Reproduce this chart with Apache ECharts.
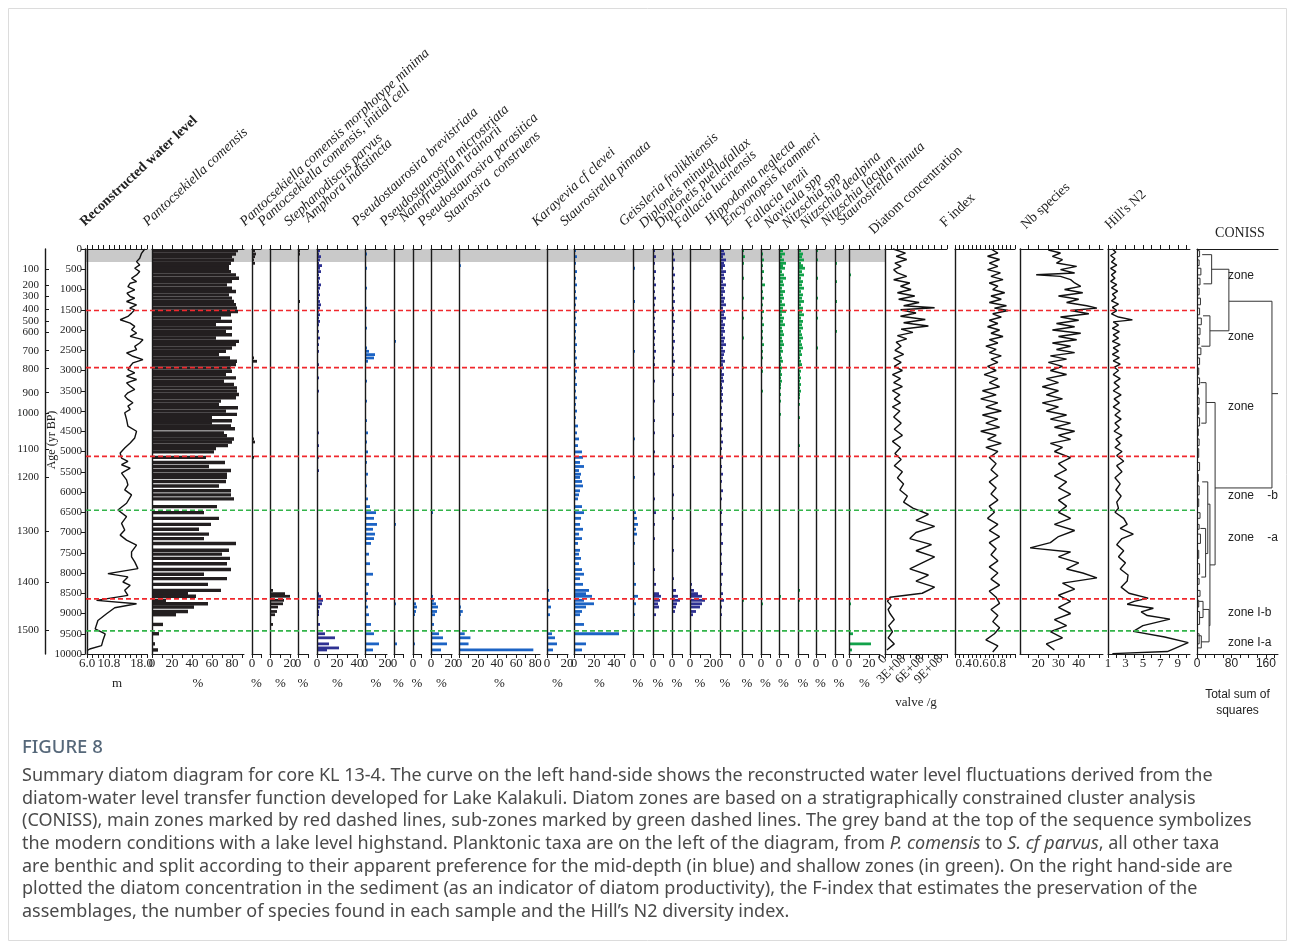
<!DOCTYPE html>
<html><head><meta charset="utf-8">
<script src="https://cdn.jsdelivr.net/npm/echarts@6/dist/echarts.min.js"></script>
<style>html,body{margin:0;padding:0;background:#fff}#c{width:1295px;height:949px}</style>
</head><body><div id="c"></div><script>
// ---------------- DATA (age in yr BP, value) ----------------
const ageTicks = [0,500,1000,1500,2000,2500,3000,3500,4000,4500,5000,5500,6000,6500,7000,7500,8000,8500,9000,9500,10000];
const depthLabels = [100,200,300,400,500,600,700,800,900,1000,1100,1200,1300,1400,1500];
const depthAges = [493,887,1158,1478,1773,2044,2512,2956,3547,4064,4951,5640,6970,8227,9409];
const redZones = [1520,2930,5120,8640];
const greenZones = [6450,9430];
const greyBand = [0,320];

const waterLevel = [[0,18.7],[107,18.0],[230,17.6],[312,16.9],[394,17.6],[476,16.5],[558,17.6],[640,16.9],[722,15.8],[804,16.9],[845,15.5],[927,15.0],[1009,16.5],[1091,14.8],[1173,15.5],[1214,16.5],[1296,14.7],[1378,16.9],[1460,15.4],[1501,16.5],[1583,15.8],[1665,15.0],[1747,13.3],[1829,15.5],[1911,16.5],[1993,15.8],[2075,16.9],[2157,15.5],[2239,18.3],[2321,17.6],[2403,16.5],[2485,16.9],[2567,14.7],[2649,16.1],[2731,18.3],[2813,16.1],[2895,15.5],[2977,15.0],[3059,16.5],[3141,14.7],[3223,16.9],[3305,14.7],[3387,15.5],[3469,16.5],[3551,15.0],[3633,14.3],[3715,15.0],[3797,16.1],[3879,15.0],[3961,15.5],[4043,14.3],[4207,14.7],[4376,15.0],[4500,16.9],[4665,16.5],[4790,15.5],[4914,14.3],[5038,13.3],[5162,13.6],[5244,15.0],[5327,13.6],[5410,15.5],[5534,13.6],[5700,14.7],[5823,15.0],[5947,14.3],[6071,15.8],[6278,14.7],[6443,12.8],[6609,14.7],[6774,13.6],[6940,14.3],[7064,13.3],[7188,14.7],[7312,16.9],[7477,15.8],[7601,15.8],[7725,16.5],[7891,17.2],[8015,10.6],[8097,15.0],[8222,13.9],[8304,15.5],[8428,14.3],[8552,15.0],[8676,8.1],[8759,16.9],[8858,12.1],[9007,10.3],[9173,8.4],[9380,7.8],[9504,10.0],[9669,9.5],[9793,9.2],[9876,6.6],[9917,6.0]];

const pComensis = [[41,86],[123,84],[189,80],[270,82],[353,79],[410,77],[475,77],[558,79],[640,84],[722,87],[804,80],[886,75],[968,80],[1050,84],[1132,77],[1214,80],[1296,82],[1378,84],[1460,85],[1542,86],[1624,79],[1706,69],[1788,80],[1870,64],[1952,80],[2034,74],[2116,80],[2198,64],[2280,87],[2362,84],[2444,80],[2526,74],[2608,67],[2690,78],[2772,85],[2854,84],[2936,79],[3018,80],[3100,74],[3182,84],[3264,72],[3346,82],[3428,85],[3510,85],[3592,87],[3674,84],[3756,69],[3838,67],[3920,86],[4002,74],[4084,85],[4166,60],[4240,80],[4300,60],[4370,79],[4440,83],[4540,72],[4610,75],[4690,82],[4765,80],[4855,76],[4930,64],[5010,62],[5145,54],[5270,73],[5370,57],[5470,79],[5560,75],[5640,75],[5740,74],[5850,67],[5970,79],[6070,79],[6170,82],[6360,65],[6510,52],[6650,67],[6800,59],[6920,47],[7040,57],[7150,52],[7270,84],[7440,77],[7535,70],[7640,78],[7770,75],[7915,79],[8030,52],[8140,75],[8280,56],[8430,69],[8510,36],[8575,44],[8675,14],[8760,56],[8840,42],[8950,36],[9030,24],[9270,11],[9500,7],[9750,3],[9900,6]];
const pcMinima = [[41,3],[123,4],[189,3],[270,2],[353,3],[475,1],[640,1],[886,1],[1378,1],[1706,1],[2690,2],[2772,5],[4300,1],[4540,1],[4690,2],[4765,3],[4855,1],[5145,2],[5270,1],[5470,1],[5560,1],[5740,1],[6070,1]];
const pcInitial = [[1296,1],[8430,3],[8510,15],[8575,20],[8675,14],[8760,13],[8840,8],[8950,7],[9030,5],[9270,3]];
const stephParvus = [[41,2],[123,2],[189,1],[270,1],[558,1],[1296,2],[1460,1],[2690,1],[2772,1]];
const amphora = [[41,3],[123,2],[189,4],[270,3],[353,2],[410,5],[475,3],[558,4],[640,2],[722,3],[804,2],[886,4],[968,3],[1050,2],[1132,3],[1214,2],[1296,3],[1378,4],[1460,3],[1542,2],[1624,3],[1706,2],[1788,3],[1870,2],[2034,2],[2198,3],[2362,2],[2526,2],[2690,1],[2854,2],[3018,1],[3182,2],[3346,1],[3510,2],[3674,1],[3838,1],[4002,1],[4166,1],[4370,1],[4540,2],[4690,1],[4855,2],[5010,1],[5145,2],[5270,1],[5470,2],[5640,1],[5850,1],[6070,1],[6360,1],[6800,1],[7270,1],[7640,1],[8030,1],[8280,1],[8510,2],[8575,4],[8675,6],[8760,5],[8840,3],[8950,2],[9030,2],[9270,3],[9500,8],[9600,18],[9750,12],[9850,22],[9900,10]];
const brevistriata = [[123,2],[270,1],[475,2],[722,1],[968,2],[1214,1],[1460,2],[1706,1],[1952,2],[2198,1],[2444,2],[2526,4],[2608,10],[2690,9],[2772,3],[3018,1],[3264,2],[3510,1],[3756,2],[4002,1],[4240,2],[4540,3],[4765,2],[5010,3],[5270,2],[5560,3],[5850,2],[6170,3],[6360,5],[6510,11],[6650,9],[6800,12],[6920,8],[7040,10],[7150,9],[7270,6],[7535,4],[7770,5],[8030,8],[8280,4],[8510,3],[8675,2],[8840,3],[9030,4],[9270,6],[9500,9],[9750,14],[9900,8]];
const microstriata = [[353,1],[886,1],[2280,2],[3100,1],[4690,1],[5470,1],[6800,2],[7440,1],[8760,2],[9030,1],[9750,3]];
const nanofrustulum = [[1214,1],[2936,1],[5145,1],[6650,1],[8575,1],[8760,3],[8840,4],[8950,3],[9030,2],[9750,2]];
const parasitica = [[270,1],[1050,1],[2444,1],[5010,1],[6510,2],[7270,1],[8575,2],[8675,3],[8760,5],[8840,7],[8950,6],[9030,4],[9270,3],[9500,8],[9600,12],[9750,16],[9900,10]];
const construens = [[410,2],[4370,1],[6920,1],[8840,2],[8950,4],[9030,2],[9270,1],[9500,6],[9600,12],[9750,10],[9900,78]];
const karayevia = [[189,1],[640,1],[1378,1],[2116,1],[3182,1],[4440,1],[5640,1],[6650,1],[7640,1],[8430,2],[8675,3],[8840,4],[9030,3],[9500,5],[9600,8],[9750,10],[9900,6]];
const pinnata = [[41,2],[189,3],[353,2],[558,3],[722,2],[886,3],[1050,2],[1214,3],[1378,2],[1542,3],[1706,2],[1870,3],[2034,2],[2198,2],[2362,3],[2526,2],[2690,3],[2854,2],[3018,3],[3182,2],[3346,3],[3510,2],[3674,3],[3838,2],[4002,3],[4166,2],[4370,4],[4540,3],[4690,5],[4855,4],[5010,8],[5145,9],[5270,6],[5370,10],[5470,5],[5560,7],[5640,6],[5740,8],[5850,9],[5970,6],[6070,5],[6170,4],[6360,8],[6510,10],[6650,7],[6800,6],[6920,9],[7040,5],[7150,8],[7270,4],[7440,6],[7535,5],[7640,7],[7770,5],[7915,8],[8030,10],[8140,6],[8280,9],[8430,15],[8510,12],[8575,18],[8675,10],[8760,20],[8840,12],[8950,8],[9030,6],[9270,10],[9500,45],[9750,12],[9900,8]];
const geissleria = [[123,1],[475,2],[886,1],[1296,2],[1706,1],[2116,1],[2526,2],[2936,1],[3346,1],[3756,1],[4166,1],[4690,2],[5145,1],[5640,2],[6170,1],[6510,3],[6650,4],[6800,5],[6920,3],[7040,4],[7270,2],[7770,2],[8280,3],[8575,5],[8760,3],[9030,2]];
const dipMinuta = [[41,2],[189,3],[353,2],[558,3],[722,2],[886,3],[1050,2],[1214,3],[1378,2],[1542,3],[1706,2],[1870,2],[2034,3],[2198,2],[2362,2],[2526,3],[2690,2],[2854,2],[3018,1],[3264,2],[3510,1],[3756,2],[4002,1],[4240,2],[4540,2],[4765,1],[5010,2],[5270,1],[5560,2],[5850,1],[6170,2],[6510,3],[6800,2],[7150,2],[7535,1],[7915,2],[8280,3],[8510,6],[8575,8],[8675,7],[8760,5],[8840,6],[9030,3]];
const dipPuella = [[123,2],[270,3],[475,2],[640,3],[804,2],[968,3],[1132,2],[1296,3],[1460,2],[1624,2],[1788,3],[1952,2],[2116,2],[2280,3],[2444,2],[2608,2],[2772,3],[2936,2],[3100,2],[3346,1],[3592,2],[3838,1],[4084,2],[4370,1],[4610,2],[4930,1],[5370,2],[5740,1],[6070,2],[6650,2],[7040,1],[7440,2],[8140,2],[8430,4],[8575,6],[8675,8],[8760,5],[8840,4],[8950,3]];
const fallLucin = [[270,1],[722,1],[1214,1],[1706,1],[2198,1],[2690,1],[3182,1],[4370,1],[5270,1],[6360,1],[7270,1],[8280,2],[8430,4],[8510,8],[8575,12],[8675,15],[8760,12],[8840,10],[8950,6],[9030,3]];
const hippodonta = [[41,4],[123,5],[189,3],[270,6],[353,4],[410,5],[475,3],[558,6],[640,4],[722,5],[804,3],[886,6],[968,4],[1050,5],[1132,3],[1214,5],[1296,4],[1378,6],[1460,3],[1542,5],[1624,4],[1706,6],[1788,3],[1870,5],[1952,4],[2034,5],[2116,3],[2198,5],[2280,4],[2362,6],[2444,3],[2526,5],[2608,4],[2690,3],[2772,5],[2854,3],[2936,4],[3018,2],[3100,4],[3182,3],[3264,4],[3346,2],[3428,3],[3510,2],[3592,3],[3674,2],[3756,3],[3920,2],[4084,3],[4240,2],[4440,3],[4610,2],[4765,3],[4930,2],[5145,3],[5370,2],[5560,3],[5740,2],[5970,3],[6170,2],[6510,2],[6800,3],[7040,2],[7270,3],[7535,2],[7770,2],[8030,3],[8280,2],[8510,3],[8675,4],[8840,2],[9030,2]];
const encyonopsis = [[41,2],[189,3],[353,2],[558,1],[722,2],[968,1],[1214,2],[1460,1],[1706,2],[1952,1],[2198,2],[2444,1],[2690,1],[2936,2],[3182,1],[3428,1],[3674,1],[4002,1],[4370,1],[4765,1],[5145,1],[5640,1],[6170,1],[6800,1],[7440,1],[8140,1],[8675,2]];
const fallLenzii = [[41,1],[123,2],[270,3],[410,2],[558,3],[722,2],[886,4],[1050,2],[1214,3],[1378,2],[1542,3],[1706,2],[1870,3],[2034,2],[2198,2],[2362,3],[2526,2],[2690,2],[2854,1],[3018,2],[3264,1],[3510,2],[3756,1],[4002,1],[4370,1],[4690,1],[5010,1],[5470,1],[5970,1],[6650,1],[7270,1],[7915,1],[8510,1],[8760,2]];
const navicula = [[41,4],[123,6],[189,3],[270,5],[353,7],[410,4],[475,6],[558,3],[640,5],[722,7],[804,4],[886,5],[968,3],[1050,6],[1132,4],[1214,5],[1296,3],[1378,6],[1460,4],[1542,7],[1624,3],[1706,5],[1788,4],[1870,6],[1952,3],[2034,4],[2116,5],[2198,3],[2280,4],[2362,5],[2444,3],[2526,4],[2608,2],[2690,3],[2772,4],[2854,2],[2936,3],[3018,2],[3100,3],[3182,2],[3264,3],[3346,2],[3428,2],[3510,1],[3592,2],[3674,1],[3756,2],[3920,1],[4084,2],[4300,1],[4540,1],[4765,1],[5010,1],[5270,1],[5560,1],[5850,1],[6170,1],[6650,1],[7150,1],[7640,1],[8140,1],[8575,2],[8760,1]];
const nitzSpp = [[41,3],[123,5],[189,4],[270,6],[353,3],[410,5],[475,7],[558,4],[640,6],[722,3],[804,5],[886,4],[968,6],[1050,3],[1132,5],[1214,4],[1296,6],[1378,3],[1460,5],[1542,4],[1624,6],[1706,3],[1788,5],[1870,4],[1952,5],[2034,3],[2116,4],[2198,5],[2280,3],[2362,4],[2444,5],[2526,3],[2608,4],[2690,2],[2772,3],[2854,4],[2936,2],[3018,3],[3100,2],[3182,3],[3264,2],[3346,3],[3428,2],[3510,3],[3592,2],[3674,2],[3756,1],[3838,2],[4002,1],[4166,2],[4370,1],[4610,1],[4855,2],[5145,1],[5470,1],[5740,1],[6070,1],[6510,1],[6920,1],[7440,1],[7915,1],[8430,2],[8675,2],[8840,1]];
const nitzDealpina = [[41,2],[270,2],[475,1],[722,2],[968,1],[1214,2],[1460,1],[1706,2],[1952,1],[2198,1],[2444,2],[2690,1],[2936,1],[3182,1],[3510,1],[3838,1],[4240,1],[4690,1],[5145,1],[5640,1],[6360,1],[7150,1],[8030,1],[8675,1]];
const nitzLacuum = [[123,1],[353,2],[558,1],[804,2],[1050,1],[1296,2],[1542,1],[1788,1],[2034,2],[2280,1],[2526,1],[2772,1],[3018,1],[3346,1],[3756,1],[4166,1],[4610,1],[5270,1],[6070,1],[6920,1],[7770,1],[8575,1]];
const stMinuta = [[189,1],[640,2],[1132,1],[1624,1],[2362,1],[3182,1],[4370,1],[5560,1],[6800,1],[8430,1],[8760,2],[9500,4],[9750,22],[9900,3]];

const concentration = [[0,1.3e8],[100,3.3e8],[180,1.8e8],[260,3.5e8],[350,1.6e8],[430,2.6e8],[510,1.4e8],[590,2.0e8],[675,3.5e8],[760,1.4e8],[840,4.0e8],[920,2.5e8],[1000,4.2e8],[1080,2.0e8],[1160,4.8e8],[1240,2.2e8],[1320,5.5e8],[1400,3.0e8],[1450,8.0e8],[1500,2.5e8],[1580,5.0e8],[1660,2.5e8],[1740,6.5e8],[1820,3.0e8],[1900,7.0e8],[1980,2.6e8],[2060,4.5e8],[2140,2.0e8],[2220,3.5e8],[2300,1.8e8],[2400,2.6e8],[2500,1.6e8],[2600,3.0e8],[2700,1.4e8],[2800,2.6e8],[2900,1.5e8],[3000,2.8e8],[3100,1.2e8],[3200,2.5e8],[3300,1.4e8],[3400,2.8e8],[3500,1.2e8],[3600,2.4e8],[3700,1.5e8],[3800,2.5e8],[3900,1.2e8],[4000,2.4e8],[4150,1.4e8],[4300,2.6e8],[4450,1.5e8],[4600,2.8e8],[4750,1.2e8],[4900,2.5e8],[5050,1.6e8],[5200,2.6e8],[5350,1.5e8],[5500,2.8e8],[5650,2.0e8],[5800,3.0e8],[5950,2.4e8],[6100,3.6e8],[6250,3.0e8],[6400,4.5e8],[6550,7.0e8],[6700,5.0e8],[6850,8.0e8],[7000,5.0e8],[7150,4.0e8],[7300,7.5e8],[7450,5.0e8],[7600,8.0e8],[7750,6.0e8],[7900,4.0e8],[8050,7.0e8],[8200,5.0e8],[8350,8.0e8],[8500,6.0e8],[8600,0.8e8],[8700,0.4e8],[8800,1.0e8],[8900,0.5e8],[9000,0.8e8],[9150,1.5e8],[9300,0.6e8],[9450,1.2e8],[9600,0.5e8],[9750,1.5e8],[9900,0.3e8]];
const fIndex = [[0,0.72],[100,0.8],[180,0.68],[260,0.82],[350,0.7],[430,0.8],[510,0.68],[590,0.83],[675,0.72],[757,0.86],[840,0.7],[920,0.8],[1000,0.74],[1080,0.88],[1160,0.72],[1240,0.84],[1320,0.7],[1400,0.9],[1460,0.76],[1520,0.92],[1600,0.74],[1680,0.84],[1760,0.7],[1840,0.8],[1920,0.68],[2000,0.82],[2080,0.72],[2160,0.86],[2240,0.7],[2320,0.8],[2400,0.66],[2480,0.78],[2560,0.7],[2640,0.84],[2720,0.72],[2800,0.8],[2900,0.68],[3000,0.78],[3100,0.64],[3200,0.8],[3300,0.7],[3400,0.82],[3500,0.62],[3600,0.78],[3700,0.6],[3800,0.8],[3900,0.66],[4000,0.84],[4100,0.62],[4200,0.8],[4300,0.66],[4400,0.82],[4500,0.6],[4600,0.78],[4700,0.68],[4800,0.84],[4900,0.66],[5000,0.8],[5150,0.7],[5300,0.78],[5450,0.72],[5600,0.8],[5750,0.7],[5900,0.78],[6050,0.72],[6200,0.8],[6350,0.7],[6500,0.76],[6650,0.68],[6800,0.8],[6950,0.7],[7100,0.82],[7250,0.7],[7400,0.78],[7550,0.72],[7700,0.8],[7850,0.7],[8000,0.8],[8150,0.72],[8300,0.82],[8450,0.7],[8600,0.78],[8750,0.82],[8900,0.72],[9050,0.8],[9200,0.74],[9350,0.82],[9500,0.76],[9650,0.66],[9800,0.8],[9950,0.74]];
const nbSpecies = [[25,25],[99,31],[181,27],[263,32],[346,29],[428,39],[510,31],[593,38],[634,19],[675,31],[757,36],[839,38],[922,41],[1000,33],[1080,42],[1160,30],[1240,40],[1320,34],[1400,44],[1460,49],[1520,36],[1600,45],[1680,31],[1760,40],[1840,29],[1920,38],[2000,27],[2080,41],[2160,30],[2240,39],[2320,27],[2400,36],[2480,29],[2560,38],[2640,26],[2720,34],[2800,25],[2900,32],[3000,26],[3100,34],[3200,24],[3300,30],[3400,22],[3500,30],[3600,24],[3700,32],[3800,22],[3900,30],[4000,24],[4100,34],[4200,26],[4300,36],[4400,28],[4500,38],[4600,30],[4700,36],[4800,26],[4900,32],[5000,28],[5150,36],[5300,30],[5450,34],[5600,28],[5750,34],[5900,30],[6050,36],[6200,30],[6350,34],[6500,30],[6650,36],[6800,28],[6950,38],[7100,30],[7250,26],[7380,16],[7480,36],[7600,30],[7750,40],[7900,34],[8000,42],[8120,49],[8250,32],[8400,38],[8550,30],[8700,36],[8850,30],[9000,36],[9150,28],[9300,34],[9450,26],[9600,32],[9750,24],[9900,28]];
const hillN2 = [[0,1.5],[80,1.9],[160,1.3],[240,1.8],[320,1.4],[400,2.0],[480,1.3],[560,1.9],[640,1.4],[720,1.8],[800,1.3],[880,2.0],[960,1.4],[1040,2.1],[1120,1.5],[1200,1.9],[1280,1.4],[1360,2.2],[1440,1.5],[1520,2.0],[1600,1.4],[1680,2.2],[1750,3.8],[1800,1.6],[1880,2.2],[1960,1.5],[2040,2.3],[2120,1.6],[2200,2.2],[2280,1.5],[2360,2.4],[2440,1.6],[2520,2.2],[2600,1.5],[2680,2.3],[2760,1.6],[2840,2.4],[2920,1.7],[3000,2.2],[3100,1.6],[3200,2.4],[3300,1.7],[3400,2.3],[3500,1.6],[3600,2.5],[3700,1.7],[3800,2.3],[3900,1.6],[4000,2.4],[4100,1.8],[4200,2.5],[4300,1.8],[4400,2.3],[4500,1.7],[4600,2.6],[4700,1.9],[4800,2.4],[4900,1.8],[5000,2.6],[5100,2.0],[5240,2.8],[5350,2.0],[5500,2.6],[5650,1.8],[5800,2.4],[5950,1.9],[6100,2.5],[6250,2.0],[6400,2.2],[6500,1.8],[6650,2.8],[6800,3.2],[6900,2.4],[7040,3.9],[7150,2.6],[7300,2.0],[7450,2.8],[7600,2.2],[7750,3.0],[7900,2.4],[8050,3.3],[8200,3.2],[8350,2.5],[8500,3.4],[8620,5.6],[8700,4.0],[8770,3.2],[8870,6.2],[8960,4.8],[9050,5.5],[9140,8.1],[9300,5.0],[9440,3.9],[9580,7.5],[9720,10.2],[9940,7.8],[9990,1.5]];

// CONISS brackets: [ageTop, ageBottom, mergeHeight, topChildHeight, bottomChildHeight]
const conissMajor = [[1290,5900,174,74,42],[500,2020,74,34,30],[140,860,34,12,15],[1650,2400,30,14,10],[3790,7800,42,21,30],[3300,4300,21,8,10],[6300,9300,30,25,28],[5750,7520,25,12,20],[6900,8100,20,8,10],[8900,9700,28,14,10],[8700,9100,14,4,5],[9550,9850,10,3,2]];
const conissLeaves = [[41,189,6],[270,410,5],[475,640,9],[722,886,7],[968,1132,5],[1214,1378,8],[1460,1624,6],[1706,1870,10],[1952,2116,7],[2198,2362,5],[2444,2608,9],[2690,2854,6],[2936,3100,4],[3182,3346,6],[3428,3592,3],[3674,3838,5],[3920,4084,4],[4166,4370,6],[4440,4610,3],[4690,4855,5],[4930,5145,4],[5270,5470,6],[5560,5740,3],[5850,6070,5],[6170,6360,4],[6510,6650,7],[6800,6920,5],[7040,7270,8],[7440,7640,4],[7770,8030,6],[8140,8280,5],[8430,8575,7],[8675,8840,4],[8950,9270,6],[9500,9750,5]];
const conissRoot = [3571,174,188];
const zoneLabels = [['zone',276],['zone',337],['zone',407],['zone    -b',496],['zone    -a',538],['zone I-b',613],['zone I-a',643]];

// ---------------- LAYOUT ----------------
const SERIF = '"Liberation Serif","DejaVu Serif",serif';
const SANS = '"Liberation Sans","DejaVu Sans",sans-serif';
const TOP = 249, H = 405;
const BLACK = '#231f20', DBLUE = '#2e3192', BLUE = '#1c63c4', GREEN = '#12a24a';
const t10 = n => { const a=[]; for(let v=0; v<=n+1e-9; v+=10) a.push(v); return a; };

const panels = [
 {title:'Reconstructed water level', bold:true, hx:87, hy:229, x:87, w:60, min:6, max:19.2, ticks:[6,7.2,8.4,9.6,10.8,12,13.2,14.4,15.6,16.8,18,19.2], labels:[6,10.8,18], fmt:v=>v.toFixed(1), unit:'m', kind:'line', data:waterLevel},
 {title:'Pantocsekiella comensis', hx:150, hy:229, x:152, w:92, max:92, ticks:t10(90), labels:[0,20,40,60,80], kind:'bar', data:pComensis, color:BLACK, bh:3.4},
 {title:'Pantocsekiella comensis morphotype minima', hx:247, hy:229, x:252, w:9, max:9, ticks:[0,9], labels:[0], kind:'bar', data:pcMinima, color:BLACK},
 {title:'Pantocsekiella comensis, initial cell', hx:265, hy:229, x:270, w:21, max:21, ticks:[0,10,20], labels:[0,20], kind:'bar', data:pcInitial, color:BLACK},
 {title:'Stephanodiscus parvus', hx:291, hy:229, x:298, w:10, max:10, ticks:[0,10], labels:[0], kind:'bar', data:stephParvus, color:BLACK},
 {title:'Amphora indistincta', hx:311, hy:225, x:317, w:41, max:41, ticks:t10(40), labels:[0,20,40], kind:'bar', data:amphora, color:DBLUE},
 {title:'Pseudostaurosira brevistriata', hx:359, hy:229, x:365, w:22, max:22, ticks:[0,10,20], labels:[0,20], kind:'bar', data:brevistriata, color:BLUE},
 {title:'Pseudostaurosira microstriata', hx:387, hy:229, x:394, w:9, max:9, ticks:[0,9], labels:[0], kind:'bar', data:microstriata, color:BLUE},
 {title:'Nanofrustulum trainorii', hx:406, hy:225, x:413, w:8, max:8, ticks:[0,8], labels:[0], kind:'bar', data:nanofrustulum, color:BLUE},
 {title:'Pseudostaurosira parasitica', hx:425, hy:229, x:431, w:21, max:21, ticks:[0,10,20], labels:[0,20], kind:'bar', data:parasitica, color:BLUE},
 {title:'Staurosira  construens', hx:451, hy:225, x:459, w:81, max:85, ticks:t10(80), labels:[0,20,40,60,80], kind:'bar', data:construens, color:BLUE},
 {title:'Karayevia cf clevei', hx:539, hy:229, x:547, w:21, max:21, ticks:[0,10,20], labels:[0,20], kind:'bar', data:karayevia, color:BLUE},
 {title:'Staurosirella pinnata', hx:567, hy:229, x:574, w:51, max:51, ticks:t10(50), labels:[0,20,40], kind:'bar', data:pinnata, color:BLUE},
 {title:'Geissleria frolikhiensis', hx:626, hy:229, x:633, w:10, max:10, ticks:[0,10], labels:[0], kind:'bar', data:geissleria, color:BLUE},
 {title:'Diploneis minuta', hx:646, hy:231, x:653, w:10, max:10, ticks:[0,10], labels:[0], kind:'bar', data:dipMinuta, color:DBLUE},
 {title:'Diploneis puellafallax', hx:662, hy:231, x:672, w:10, max:10, ticks:[0,10], labels:[0], kind:'bar', data:dipPuella, color:DBLUE},
 {title:'Fallacia lucinensis', hx:681, hy:231, x:690, w:20, max:20, ticks:[0,10,20], labels:[0,20], kind:'bar', data:fallLucin, color:DBLUE},
 {title:'Hippodonta neglecta', hx:712, hy:228, x:720, w:10, max:10, ticks:[0,10], labels:[0], kind:'bar', data:hippodonta, color:DBLUE},
 {title:'Encyonopsis krammeri', hx:729, hy:229, x:742, w:10, max:10, ticks:[0,10], labels:[0], kind:'bar', data:encyonopsis, color:GREEN},
 {title:'Fallacia lenzii', hx:752, hy:231, x:761, w:9, max:9, ticks:[0,9], labels:[0], kind:'bar', data:fallLenzii, color:GREEN},
 {title:'Navicula spp', hx:771, hy:231, x:779, w:9, max:9, ticks:[0,9], labels:[0], kind:'bar', data:navicula, color:GREEN},
 {title:'Nitzschia spp', hx:789, hy:231, x:798, w:10, max:10, ticks:[0,10], labels:[0], kind:'bar', data:nitzSpp, color:GREEN},
 {title:'Nitzschia dealpina', hx:807, hy:231, x:816, w:9, max:9, ticks:[0,9], labels:[0], kind:'bar', data:nitzDealpina, color:GREEN},
 {title:'Nitzschia lacuum', hx:828, hy:229, x:835, w:8, max:8, ticks:[0,8], labels:[0], kind:'bar', data:nitzLacuum, color:GREEN},
 {title:'Staurosirella minuta', hx:844, hy:228, x:849, w:31, max:31, ticks:[0,10,20,30], labels:[0,20], kind:'bar', data:stMinuta, color:GREEN},
 {title:'Diatom concentration', up:true, hx:876, hy:237, x:885, w:62, min:0, max:1e9, ticks:[0,1e8,2e8,3e8,4e8,5e8,6e8,7e8,8e8,9e8,1e9], labels:[0,3e8,6e8,9e8], fmt:v=>v===0?'0':(v/1e8)+'E+08', rot:45, unit:'valve /g', nameGap:42, kind:'line', data:concentration},
 {title:'F index', up:true, hx:947, hy:230, x:955, w:60, min:0.3, max:1.0, ticks:[0.3,0.35,0.4,0.45,0.5,0.55,0.6,0.65,0.7,0.75,0.8,0.85,0.9,0.95,1.0], labels:[0.4,0.6,0.8], fmt:v=>v.toFixed(1), unit:'', kind:'line', data:fIndex},
 {title:'Nb species', up:true, hx:1028, hy:232, x:1020, w:83, min:11, max:52, ticks:[15,20,25,30,35,40,45,50], labels:[20,30,40], unit:'', kind:'line', data:nbSpecies},
 {title:"Hill's N2", up:true, hx:1112, hy:232, x:1108, w:82, min:1, max:10.4, ticks:[1,2,3,4,5,6,7,8,9,10], labels:[1,3,5,7,9], unit:'', kind:'line', data:hillN2}
];

const grids=[], xAxes=[], yAxes=[], series=[], graphics=[];
const axisCol = '#1a1a1a';
function addGrid(g){ grids.push(g); return grids.length-1; }
const HEAD_ROT = 43*Math.PI/180;

panels.forEach(p => {
  const gi = addGrid({left:p.x, top:TOP, width:p.w, height:H});
  const mn = p.min !== undefined ? p.min : 0;
  const base = {type:'value', gridIndex:gi, min:mn, max:p.max, splitLine:{show:false}, z:6};
  xAxes.push(Object.assign({}, base, {position:'top', axisLine:{show:true, onZero:false, lineStyle:{color:axisCol, width:1}},
    axisTick:{show:true, inside:false, length:4, customValues:p.ticks, lineStyle:{color:axisCol}}, axisLabel:{show:false}}));
  const xb = xAxes.length;
  xAxes.push(Object.assign({}, base, {position:'bottom', axisLine:{show:true, onZero:false, lineStyle:{color:axisCol, width:1}},
    axisTick:{show:true, inside:false, length:4, customValues:p.ticks, lineStyle:{color:axisCol}},
    axisLabel:{show:true, customValues:p.labels, formatter:p.fmt || (v=>String(v)), fontFamily:SERIF, fontSize:13, color:'#222', margin:3, rotate:p.rot||0, hideOverlap:false, showMinLabel:true, showMaxLabel:true},
    name: p.unit === undefined ? '%' : p.unit, nameLocation:'middle', nameGap: p.nameGap || 23, nameTextStyle:{fontFamily:SERIF, fontSize:13, color:'#222'}}));
  yAxes.push({type:'value', gridIndex:gi, min:0, max:10000, inverse:true, z:6,
    axisLine:{show:true, onZero:false, lineStyle:{color:axisCol, width:1.4}}, axisTick:{show:false}, axisLabel:{show:false}, splitLine:{show:false}});
  const yi = yAxes.length-1;
  if (p.kind === 'line') {
    series.push({type:'line', xAxisIndex:xb, yAxisIndex:yi, data:p.data.map(d=>[d[1],d[0]]), symbol:'none', showSymbol:false,
      lineStyle:{color:'#111', width:1.4}, z:4, silent:true, clip:false});
  } else {
    const bh = p.bh || 2.8;
    series.push({type:'custom', xAxisIndex:xb, yAxisIndex:yi, data:p.data, encode:{x:1, y:0}, z:4, silent:true,
      itemStyle:{color:p.color},
      renderItem:(params, api) => {
        const a = api.value(0), v = api.value(1);
        const p0 = api.coord([0, a]), p1 = api.coord([v, a]);
        return {type:'rect', shape:{x:p0[0], y:p0[1]-bh/2, width:Math.max(p1[0]-p0[0],0.8), height:bh}, style:{fill:api.visual('color')}};
      }});
  }
  graphics.push({type:'text', x:p.hx, y:p.hy, rotation:HEAD_ROT, silent:true,
    style:{text:p.title, fill:'#222', font:(p.bold?'bold ':'') + ((p.bold||p.up)?'':'italic ') + '14px ' + SERIF, textAlign:'left', textVerticalAlign:'bottom'}});
});

// CONISS panel
{
  const gi = addGrid({left:1197, top:TOP, width:81, height:H});
  const base = {type:'value', gridIndex:gi, min:0, max:188, splitLine:{show:false}, z:6};
  xAxes.push(Object.assign({}, base, {position:'top', axisLine:{show:true, onZero:false, lineStyle:{color:axisCol, width:1.2}}, axisTick:{show:false}, axisLabel:{show:false}}));
  const xb = xAxes.length;
  xAxes.push(Object.assign({}, base, {position:'bottom', axisLine:{show:true, onZero:false, lineStyle:{color:axisCol}},
    axisTick:{show:true, length:4, customValues:[0,20,40,60,80,100,120,140,160,180], lineStyle:{color:axisCol}},
    axisLabel:{show:true, customValues:[0,80,160], fontFamily:SANS, fontSize:12, color:'#222', margin:4},
    name:'Total sum of\nsquares', nameLocation:'middle', nameGap:33, nameTextStyle:{fontFamily:SANS, fontSize:12, color:'#222', lineHeight:16}}));
  yAxes.push({type:'value', gridIndex:gi, min:0, max:10000, inverse:true, z:6,
    axisLine:{show:true, onZero:false, lineStyle:{color:axisCol, width:1.2}}, axisTick:{show:false}, axisLabel:{show:false}, splitLine:{show:false}});
  const yi = yAxes.length-1;
  const brk = (params, api) => {
    const t=api.value(0), b=api.value(1), h=api.value(2), ht=api.value(3), hb=api.value(4);
    return {type:'polyline', shape:{points:[api.coord([ht,t]),api.coord([h,t]),api.coord([h,b]),api.coord([hb,b])]}, style:{stroke:'#333', fill:null, lineWidth:1}};
  };
  series.push({type:'custom', xAxisIndex:xb, yAxisIndex:yi, data:conissMajor, encode:{x:[2,3,4], y:[0,1]}, renderItem:brk, z:4, silent:true});
  series.push({type:'custom', xAxisIndex:xb, yAxisIndex:yi, data:conissLeaves.map(d=>[d[0],d[1],d[2],0,0]), encode:{x:[2,3,4], y:[0,1]}, renderItem:brk, z:4, silent:true});
  series.push({type:'line', xAxisIndex:xb, yAxisIndex:yi, data:[[conissRoot[1],conissRoot[0]],[conissRoot[2],conissRoot[0]]], symbol:'none', lineStyle:{color:'#333', width:1}, z:4, silent:true});
  graphics.push({type:'text', x:1240, y:233, silent:true, style:{text:'CONISS', fill:'#222', font:'14px '+SERIF, textAlign:'center', textVerticalAlign:'middle'}});
  zoneLabels.forEach(z => graphics.push({type:'text', x:1228, y:z[1], silent:true, style:{text:z[0], fill:'#222', font:'12px '+SANS, textAlign:'left', textVerticalAlign:'middle'}}));
}

// Age axis
{
  const gi = addGrid({left:85, top:TOP, width:1, height:H});
  xAxes.push({type:'value', gridIndex:gi, show:false, min:0, max:1});
  yAxes.push({type:'value', gridIndex:gi, min:0, max:10000, inverse:true, z:6,
    axisLine:{show:true, onZero:false, lineStyle:{color:axisCol, width:1.4}},
    axisTick:{show:true, length:4, customValues:ageTicks, lineStyle:{color:axisCol}},
    axisLabel:{show:true, customValues:ageTicks, formatter:v=>String(v), fontFamily:SERIF, fontSize:11, color:'#222', margin:3},
    splitLine:{show:false}});
}
// Depth axis
{
  const gi = addGrid({left:45, top:TOP, width:1, height:H});
  xAxes.push({type:'value', gridIndex:gi, show:false, min:0, max:1});
  yAxes.push({type:'value', gridIndex:gi, min:0, max:10000, inverse:true, z:6,
    axisLine:{show:true, onZero:false, lineStyle:{color:axisCol, width:1.4}},
    axisTick:{show:true, inside:true, length:4, customValues:depthAges, lineStyle:{color:axisCol}},
    axisLabel:{show:true, customValues:depthAges, formatter:v=>{const i=depthAges.indexOf(v); return i>=0?String(depthLabels[i]):'';}, fontFamily:SERIF, fontSize:11, color:'#222', margin:6},
    splitLine:{show:false}});
  graphics.push({type:'text', x:52, y:440, rotation:Math.PI/2, silent:true, style:{text:'Age (yr BP)', fill:'#222', font:'12px '+SERIF, textAlign:'center', textVerticalAlign:'middle'}});
}
// Grey band (modern highstand)
{
  const gi = addGrid({left:86, top:TOP, width:799, height:H});
  xAxes.push({type:'value', gridIndex:gi, show:false, min:0, max:1});
  yAxes.push({type:'value', gridIndex:gi, show:false, min:0, max:10000, inverse:true});
  series.push({type:'custom', xAxisIndex:xAxes.length-1, yAxisIndex:yAxes.length-1, data:[greyBand], encode:{y:[0,1]}, z:1, silent:true,
    renderItem:(params, api) => { const a=api.coord([0, api.value(0)]), b=api.coord([1, api.value(1)]);
      return {type:'rect', shape:{x:a[0], y:a[1], width:b[0]-a[0], height:b[1]-a[1]}, style:{fill:'#c9c9c9'}}; }});
}
// Zone lines
{
  const gi = addGrid({left:86, top:TOP, width:1111, height:H});
  xAxes.push({type:'value', gridIndex:gi, show:false, min:0, max:1});
  yAxes.push({type:'value', gridIndex:gi, show:false, min:0, max:10000, inverse:true});
  const xi = xAxes.length-1, yi = yAxes.length-1;
  redZones.forEach(a => series.push({type:'line', xAxisIndex:xi, yAxisIndex:yi, data:[[0,a],[1,a]], symbol:'none', silent:true, z:10,
    lineStyle:{color:'#f0282d', width:1.6, type:[5,3]}}));
  greenZones.forEach(a => series.push({type:'line', xAxisIndex:xi, yAxisIndex:yi, data:[[0,a],[1,a]], symbol:'none', silent:true, z:10,
    lineStyle:{color:'#33b44a', width:1.6, type:[5,3]}}));
}

// Caption
const CAPF = '"Noto Sans","Open Sans",sans-serif';
const capLines = [
 'Summary diatom diagram for core KL 13-4. The curve on the left hand-side shows the reconstructed water level fluctuations derived from the',
 'diatom-water level transfer function developed for Lake Kalakuli. Diatom zones are based on a stratigraphically constrained cluster analysis',
 '(CONISS), main zones marked by red dashed lines, sub-zones marked by green dashed lines. The grey band at the top of the sequence symbolizes',
 'the modern conditions with a lake level highstand. Planktonic taxa are on the left of the diagram, from {i|P. comensis} to {i|S. cf parvus}, all other taxa',
 'are benthic and split according to their apparent preference for the mid-depth (in blue) and shallow zones (in green). On the right hand-side are',
 'plotted the diatom concentration in the sediment (as an indicator of diatom productivity), the F-index that estimates the preservation of the',
 'assemblages, the number of species found in each sample and the Hill\u2019s N2 diversity index.'
];
graphics.push({type:'rect', shape:{x:8.5, y:8.5, width:1278, height:932}, style:{fill:null, stroke:'#dcdcdc', lineWidth:1}, silent:true, z:-10});
graphics.push({type:'text', x:22, y:748, silent:true, style:{text:'FIGURE 8', fill:'#56687a', font:'500 18.5px '+CAPF, textVerticalAlign:'middle'}});
capLines.forEach((t,i) => graphics.push({type:'text', x:22, y:776 + i*22.6, silent:true,
  style:{text:t, fill:'#4a4a4a', font:'18px '+CAPF, textVerticalAlign:'middle', rich:{i:{fontStyle:'italic', fontSize:18, fontFamily:CAPF, fill:'#4a4a4a'}}}}));

const chart = echarts.init(document.getElementById('c'), null, {renderer:'canvas'});
chart.setOption({animation:false, backgroundColor:'#fff', grid:grids, xAxis:xAxes, yAxis:yAxes, series:series, graphic:{elements:graphics}});
</script></body></html>
